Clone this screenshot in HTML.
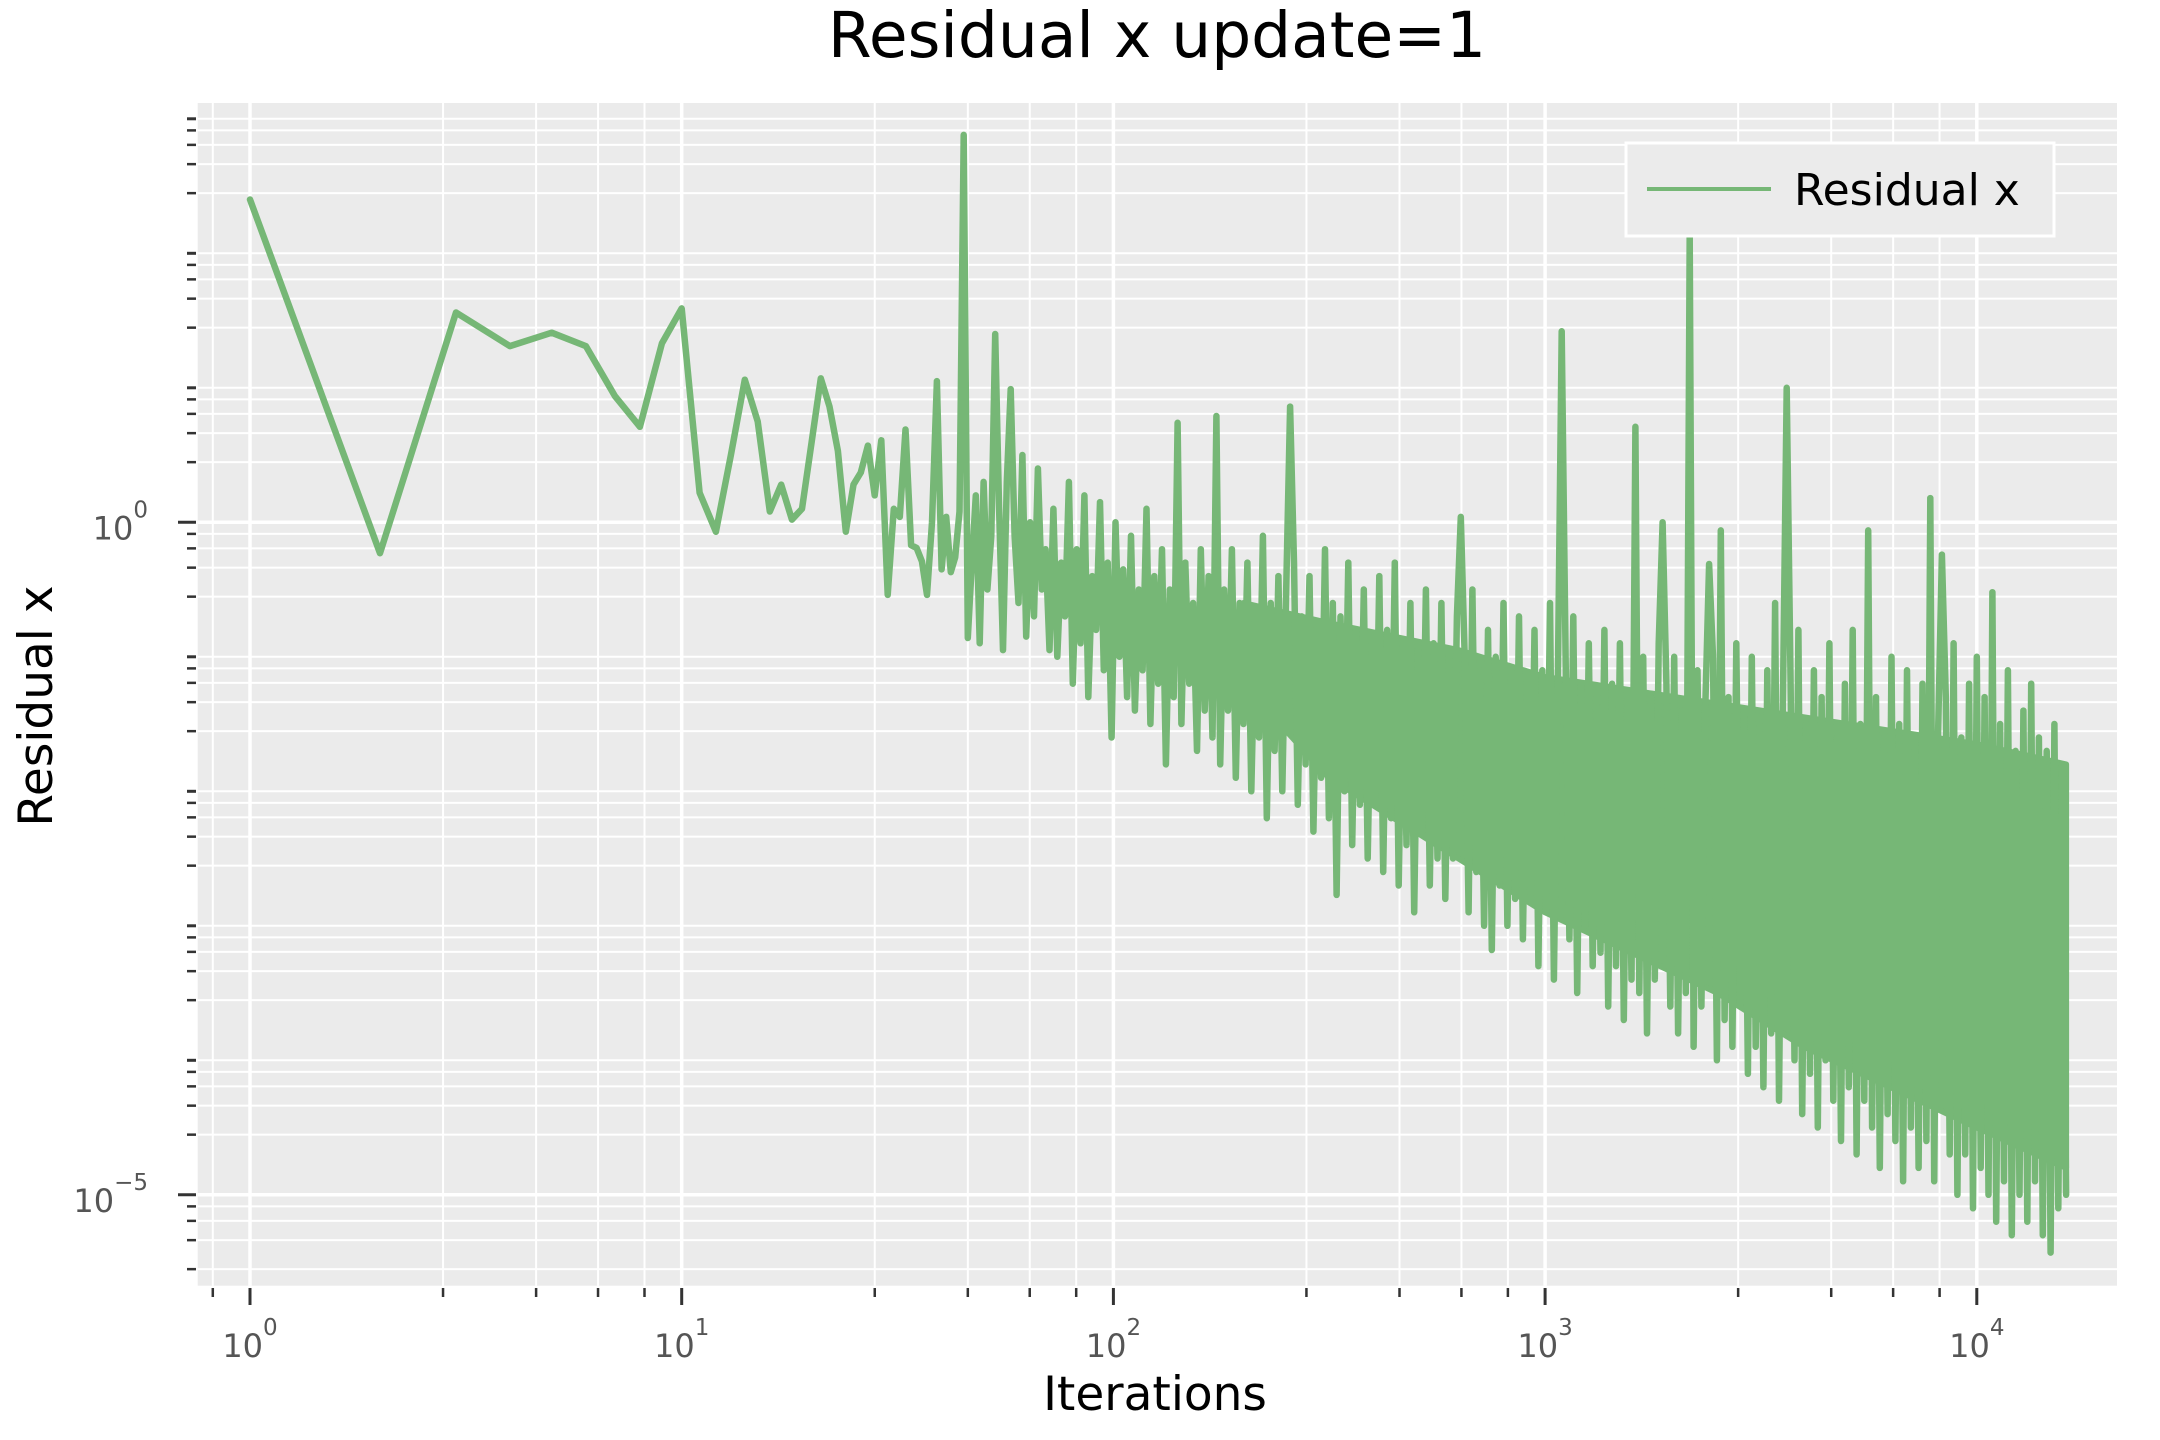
<!DOCTYPE html>
<html>
<head>
<meta charset="utf-8">
<style>
  html,body{margin:0;padding:0;background:#fff;}
  svg{display:block;font-family:"DejaVu Sans","Liberation Sans",sans-serif;}
</style>
</head>
<body>
<svg id="chart" width="2160" height="1440" viewBox="0 0 2160 1440" xmlns="http://www.w3.org/2000/svg">
  <rect x="0" y="0" width="2160" height="1440" fill="#ffffff"/>
  <text x="1157" y="57" font-size="63" text-anchor="middle" fill="#000">Residual x update=1</text>
  <rect x="197.7" y="103" width="1919.3" height="1182.7" fill="#ebebeb"/>
  <g id="grid"></g>
  <g id="ticks"></g>
  <defs><clipPath id="clip"><rect x="197.7" y="103" width="1919.3" height="1182.7"/></clipPath></defs>
  <g id="series" clip-path="url(#clip)"></g>
  <text x="1155" y="1410" font-size="47" text-anchor="middle" fill="#000">Iterations</text>
  <text x="0" y="0" font-size="47" text-anchor="middle" fill="#000" transform="translate(52,706) rotate(-90)">Residual x</text>
  <g>
    <rect x="1626" y="143" width="428" height="93" fill="#ebebeb" stroke="#ffffff" stroke-width="3"/>
    <line x1="1647" y1="189" x2="1771" y2="189" stroke="#76b776" stroke-width="4"/>
    <text x="1794" y="205" font-size="44" fill="#000">Residual x</text>
  </g>
</svg>
<script>
// ---- data (log10 of residual) ----
const earlyIters = [1,2,3,4,5,6,7,8,9,10,11,12,13,14,15,16,17,18,19,20,21,22,23,24,25,26,27,28,29,30,31,32,33,34,35,36,37,38,39,40,41,42,43,44,45,46,47];
const earlyLogResidual = [2.40,-0.23,1.56,1.31,1.41,1.31,0.94,0.71,1.33,1.59,0.22,-0.07,0.5,1.06,0.75,0.08,0.28,0.02,0.10,0.6,1.07,0.86,0.53,-0.07,0.28,0.37,0.57,0.20,0.61,-0.54,0.10,0.04,0.69,-0.17,-0.19,-0.29,-0.54,0.0,1.05,-0.35,0.04,-0.37,-0.26,0.08,2.88,-0.86,-0.31];
const denseStartIter = 48;
const denseEndIter = 16100;
const denseLogResidual = [
 0.2,-0.9,0.3,-0.5,-0.1,1.40,0.1,-0.95,0.3,0.99,-0.1,-0.6,0.5,-0.85,0.0,-0.7,0.4,-0.5,-0.2,-0.95,
 0.1,-1.0,-0.3,-0.7,0.3,-1.2,-0.2,-0.9,0.2,-1.3,-0.4,-0.8,0.15,-1.1,-0.3,-1.6,0.0,-1.0,-0.35,-1.3,
 -0.1,-1.4,-0.5,-1.1,0.1,-1.5,-0.4,-1.2,-0.2,-1.8,-0.5,-1.3,0.74,-1.5,-0.3,-1.2,-0.6,-1.7,-0.2,-1.4,
 -0.4,-1.6,0.79,-1.8,-0.5,-1.4,-0.2,-1.9,-0.6,-1.5,-0.3,-2.0,-0.7,-1.6,-0.1,-2.2,-0.6,-1.7,-0.4,-2.0,
 -0.5,0.86,-0.3,-2.1,-0.7,-1.8,-0.4,-2.3,-0.8,-1.9,-0.2,-2.2,-0.6,-2.77,-0.7,-2.0,-0.3,-2.4,-0.8,-2.1,
 -0.5,-2.5,-0.9,-2.1,-0.4,-2.6,-0.8,-2.2,-0.3,-2.7,-0.9,-2.4,-0.6,-2.9,-0.95,-2.3,-0.5,-2.7,-0.9,-2.5,
 -0.6,-2.8,-1.0,-2.5,-0.7,0.04,-1.0,-2.9,-0.5,-2.6,-1.1,-3.0,-0.8,-3.18,-1.0,-2.7,-0.6,-3.0,-1.1,-2.8,
 -0.7,-3.1,-1.2,-2.8,-0.8,-3.3,-1.1,-2.9,-0.6,-3.4,-1.2,1.42,-1.0,-3.1,-0.7,-3.5,-1.2,-3.0,-0.9,-3.3,
 -1.3,-3.2,-0.8,-3.6,-1.2,-3.3,-0.9,-3.7,-1.3,-3.4,0.71,-3.5,-1.0,-3.8,-1.3,-3.4,-0.9,0.0,-1.2,-3.6,
 -1.0,-3.8,-1.4,-3.5,2.14,-3.9,-1.1,-3.6,-1.4,-0.31,-1.0,-4.0,-0.06,-3.7,-1.3,-3.9,-0.9,-3.6,-1.4,-4.1,
 -1.0,-3.9,-1.5,-4.2,-1.1,-3.8,-0.6,-4.3,-1.4,1.0,-1.2,-4.0,-0.8,-4.4,-1.5,-4.1,-1.1,-4.5,-1.3,-4.0,
 -0.9,-4.3,-1.6,-4.6,-1.2,-4.2,-0.8,-4.7,-1.5,-4.3,-0.06,-4.5,-1.3,-4.8,-1.6,-4.4,-1.0,-4.6,-1.5,-4.9,
 -1.1,-4.5,-1.6,-4.8,-1.2,-4.6,0.18,-4.9,-1.6,-0.24,-1.3,-4.7,-0.9,-5.0,-1.6,-4.7,-1.2,-5.1,-1.0,-4.8,
 -1.3,-5.0,-0.52,-5.2,-1.5,-4.9,-1.1,-5.3,-1.7,-5.0,-1.4,-5.2,-1.2,-4.9,-1.6,-5.3,-1.7,-5.43,-1.5,-5.1,-1.8,-5.0
];
// solid core of the dense oscillation band (iterations, log10 top/bottom)
const bandIters = [200, 316, 630, 1000, 1585, 2512, 3981, 6310, 10000, 16100];
const bandTopLog = [-0.6, -0.75, -0.95, -1.15, -1.25, -1.35, -1.45, -1.55, -1.65, -1.8];
const bandBottomLog = [-1.2, -1.9, -2.5, -2.9, -3.2, -3.5, -3.9, -4.2, -4.5, -4.8];
const xTickExponents = [0,1,2,3,4];
const yTickExponents = [0,-5];
const minorMultipliers = [2.8,4.6,6.4,8.2];

// ---- axes ----
const L = 197.7, R = 2117, T = 103, B = 1285.7;
const X0 = 250, XD = 431.7, Y0 = 522.3, YD = 134.5;
function xScale(v){ return X0 + XD*Math.log10(v); }
function yScaleLog(lv){ return Y0 - YD*lv; }
const NS = 'http://www.w3.org/2000/svg';
function mk(tag, attrs, parent){
  const e = document.createElementNS(NS, tag);
  for (const k in attrs) e.setAttribute(k, attrs[k]);
  parent.appendChild(e);
  return e;
}
const grid = document.getElementById('grid');
const ticks = document.getElementById('ticks');

// x grid + ticks
for (let d = -1; d <= 5; d++) {
  const base = Math.pow(10, d);
  const px = xScale(base);
  if (px >= L && px <= R) {
    const major = xTickExponents.indexOf(d) >= 0;
    const gl = mk('line', {x1:px, x2:px, y1:T, y2:B, stroke:'#fff', 'stroke-width': major?3.5:2}, grid);
    
    
    const tk = mk('line', {x1:px, x2:px, y1:1288, y2: major?1305:1297, stroke:'#333', 'stroke-width':3}, ticks);
    
    
    if (major) {
      const t = mk('text', {x:px, y:1357, 'font-size':32, fill:'#555', 'text-anchor':'middle'}, ticks);
      
      
      t.textContent = '10';
      const s = mk('tspan', {dy:-22, 'font-size':23}, t);
      s.textContent = String(d);
    }
  }
  for (const m of minorMultipliers) {
    const mpx = xScale(m*base);
    if (mpx < L || mpx > R) continue;
    const gl = mk('line', {x1:mpx, x2:mpx, y1:T, y2:B, stroke:'#fff', 'stroke-width':2}, grid);
    
    
    const tk = mk('line', {x1:mpx, x2:mpx, y1:1288, y2:1297, stroke:'#333', 'stroke-width':2.5}, ticks);
    
    
  }
}

// y grid + ticks
for (let d = -7; d <= 4; d++) {
  const py = yScaleLog(d);
  if (py >= T && py <= B) {
    const major = yTickExponents.indexOf(d) >= 0;
    const gl = mk('line', {x1:L, x2:R, y1:py, y2:py, stroke:'#fff', 'stroke-width': major?3.5:2}, grid);
    
    
    const tk = mk('line', {x1: major?178:187, x2:196, y1:py, y2:py, stroke:'#333', 'stroke-width':3}, ticks);
    
    
    if (major) {
      const t = mk('text', {x:148, y:py+17, 'font-size':32, fill:'#555', 'text-anchor':'end'}, ticks);
      
      
      t.textContent = '10';
      const s = mk('tspan', {dy:-22, 'font-size':23}, t);
      s.textContent = d < 0 ? '\u2212' + String(-d) : String(d);
    }
  }
  for (const m of minorMultipliers) {
    const mpy = yScaleLog(d + Math.log10(m));
    if (mpy < T || mpy > B) continue;
    const gl = mk('line', {x1:L, x2:R, y1:mpy, y2:mpy, stroke:'#fff', 'stroke-width':2}, grid);
    
    
    const tk = mk('line', {x1:187, x2:196, y1:mpy, y2:mpy, stroke:'#333', 'stroke-width':2.5}, ticks);
    
    
  }
}

// series
const series = document.getElementById('series');
const bandPts = [];
for (let i = 0; i < bandIters.length; i++) bandPts.push([xScale(bandIters[i]), yScaleLog(bandTopLog[i])]);
for (let i = bandIters.length - 1; i >= 0; i--) bandPts.push([xScale(bandIters[i]), yScaleLog(bandBottomLog[i])]);
const band = mk('polygon', {
  points: bandPts.map(p => p[0].toFixed(1) + ',' + p[1].toFixed(1)).join(' '),
  fill: '#76b776', stroke: '#76b776', 'stroke-width': 6, 'stroke-linejoin': 'round'
}, series);



const pts = [];
for (let i = 0; i < earlyIters.length; i++) {
  pts.push([xScale(earlyIters[i]), yScaleLog(earlyLogResidual[i])]);
}
const n = denseLogResidual.length;
const la = Math.log10(denseStartIter), lb = Math.log10(denseEndIter);
for (let i = 0; i < n; i++) {
  const it = Math.pow(10, la + (lb - la) * i / (n - 1));
  pts.push([xScale(it), yScaleLog(denseLogResidual[i])]);
}
const line = mk('polyline', {
  points: pts.map(p => p[0].toFixed(1) + ',' + p[1].toFixed(1)).join(' '),
  fill: 'none', stroke: '#76b776', 'stroke-width': 6.5,
  'stroke-linejoin': 'round', 'stroke-linecap': 'round'
}, series);


</script>
</body>
</html>
